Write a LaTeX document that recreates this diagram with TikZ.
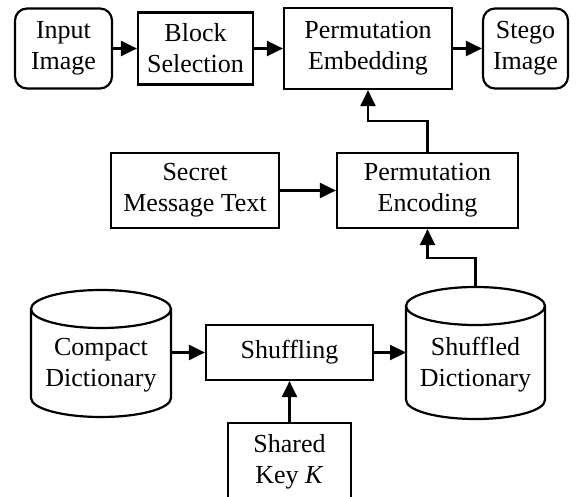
\documentclass[tikz,border=0pt]{standalone}
\usepackage{fontspec}
\setmainfont{Liberation Serif}
\usetikzlibrary{arrows.meta,calc,positioning}

\begin{document}
\begin{tikzpicture}[x=1pt,y=-1pt,
  txt/.style={align=center,inner sep=0pt,font=\fontsize{26}{31}\selectfont},
  blk/.style={txt,draw,line width=2.2pt},
  rblk/.style={blk,rounded corners=12pt},
  dbline/.style={line width=2.2pt},
  arr/.style={line width=2.2pt,-{Triangle[length=16pt,width=15pt]}}]
\useasboundingbox (0,0) rectangle (576,497);
\clip (0,0) rectangle (576,497);

% embedding row
\node[rblk,minimum width=97pt,minimum height=80pt] (input) at (63.5,48.5) {Input\\Image};
\node[blk,minimum width=115pt,minimum height=72pt] (blocksel) at (195.5,48.5) {Block\\Selection};
\node[blk,minimum width=168pt,minimum height=81pt] (permemb) at (368,48.5) {Permutation\\Embedding};
\node[rblk,minimum width=85pt,minimum height=80pt] (stego) at (525.5,48.5) {Stego\\Image};

% encoding row
\node[blk,minimum width=168pt,minimum height=75pt] (secret) at (195,190.5) {Secret\\Message Text};
\node[blk,minimum width=181pt,minimum height=75pt] (permenc) at (427.5,190.5) {Permutation\\Encoding};

% dictionary row
\draw[dbline] (31,309) -- (31,398) arc (180:0:70 and 19) -- (171,309);
\draw[dbline] (101,309) ellipse (70 and 19);
\node[txt] (compact) at (101,365) {Compact\\Dictionary};
\coordinate (compactE) at (171,352.5);

\draw[dbline] (406,306) -- (406,400) arc (180:0:69.5 and 19) -- (545,306);
\draw[dbline] (475.5,306) ellipse (69.5 and 19);
\node[txt] (shuffled) at (475.5,365) {Shuffled\\Dictionary};
\coordinate (shuffledW) at (406,352.5);
\coordinate (shuffledN) at (475.5,287);

\node[blk,minimum width=167pt,minimum height=55pt] (shuffling) at (289.5,352.5) {Shuffling};
\node[blk,minimum width=123pt,minimum height=77pt] (sharedkey) at (289.5,461.5) {Shared\\Key \textit{K}};

\draw[arr] (input) -- (blocksel);
\draw[arr] (blocksel) -- (permemb);
\draw[arr] (permemb) -- (stego);
\draw[arr] (secret) -- (permenc);
\draw[arr] (permenc.north) |- ($(permemb.south)!.5!(permenc.north)$) -| (permemb.south);
\draw[arr] (shuffledN) |- ($(permenc.south)!.5!(shuffledN)$) -| (permenc.south);
\draw[arr] (compactE) -- (shuffling.west);
\draw[arr] (shuffling.east) -- (shuffledW);
\draw[arr] (sharedkey) -- (shuffling);
\end{tikzpicture}
\end{document}
